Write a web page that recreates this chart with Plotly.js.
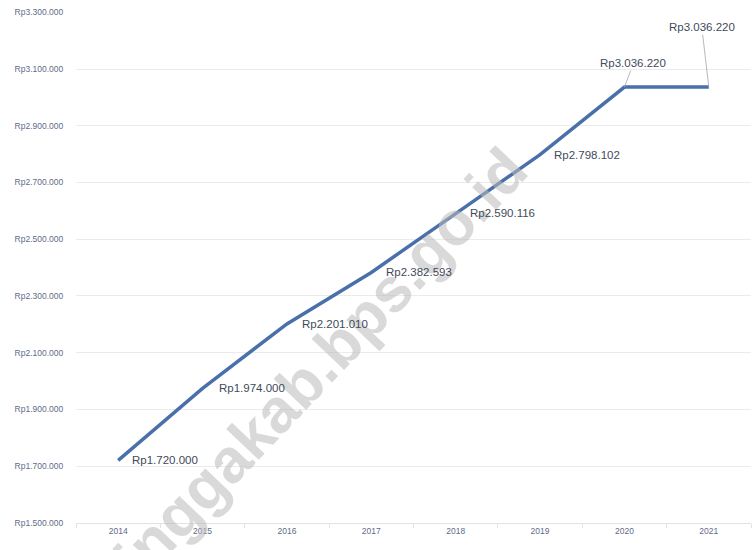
<!DOCTYPE html>
<html>
<head>
<meta charset="utf-8">
<script src="https://cdn.plot.ly/plotly-3.0.1.min.js"></script>
<style>html,body{margin:0;padding:0;background:#fff;}#chart{width:754px;height:550px;}</style>
</head>
<body>
<div id="chart"></div>
<script>
// ---- data ----
const years = ['2014','2015','2016','2017','2018','2019','2020','2021'];
const wages = [1720000, 1974000, 2201010, 2382593, 2590116, 2798102, 3036220, 3036220];
const yTickValues = [1500000,1700000,1900000,2100000,2300000,2500000,2700000,2900000,3100000,3300000];
const yTickLabels = ['Rp1.500.000','Rp1.700.000','Rp1.900.000','Rp2.100.000','Rp2.300.000','Rp2.500.000','Rp2.700.000','Rp2.900.000','Rp3.100.000','Rp3.300.000'];
const watermark = 'linggakab.bps.go.id';

function fmtRp(v){
  return 'Rp' + String(v).replace(/\B(?=(\d{3})+(?!\d))/g, '.');
}

// label placement (styling only)
const labelOffsets = [
  {mode:'side', dx:12, dy:0},
  {mode:'side', dx:14, dy:0},
  {mode:'side', dx:13, dy:0},
  {mode:'side', dx:13, dy:0},
  {mode:'side', dx:12, dy:1},
  {mode:'side', dx:12, dy:0},
  {mode:'leader', ax:9, ay:-24},
  {mode:'leader', ax:-7, ay:-60}
];

const labelFont = {family:'Liberation Sans, Arial, sans-serif', size:11.5, color:'#424a5a'};

const annotations = years.map((yr, i) => {
  const o = labelOffsets[i];
  // category axis: use the category's serial number
  const base = {x: years.indexOf(yr), y: wages[i], xref:'x', yref:'y', text: fmtRp(wages[i]), font: labelFont};
  if (o.mode === 'side') {
    return Object.assign(base, {showarrow:false, xanchor:'left', yanchor:'middle', xshift:o.dx, yshift:o.dy});
  }
  return Object.assign(base, {showarrow:true, arrowhead:0, arrowwidth:0.8, arrowcolor:'#a0a6b0',
    ax:o.ax, ay:o.ay, standoff:0, xanchor:'center', yanchor:'middle'});
});

annotations.unshift({
  xref:'paper', yref:'paper', x:0.354, y:0.30, text:'<b>'+watermark+'</b>', showarrow:false,
  textangle:-46.5, font:{family:'Liberation Sans, Arial, sans-serif', size:62, color:'rgba(185,185,185,0.55)'},
  xanchor:'center', yanchor:'middle'
});

const trace = {
  x: years, y: wages, type:'scatter', mode:'lines',
  line:{color:'#4a70aa', width:3.5},
  hoverinfo:'skip'
};

const layout = {
  width:754, height:550,
  margin:{l:76, r:3, t:12, b:27},
  paper_bgcolor:'#ffffff', plot_bgcolor:'#ffffff',
  showlegend:false,
  xaxis:{
    type:'category', range:[-0.5, 7.5],
    showgrid:false, zeroline:false,
    showline:true, linecolor:'#e2e2e2', linewidth:1,
    ticks:'outside', tickson:'boundaries', ticklen:4, tickcolor:'#e2e2e2',
    tickfont:{family:'Liberation Sans, Arial, sans-serif', size:8.5, color:'#5f6b88'}
  },
  yaxis:{
    range:[1499000, 3301000],
    tickvals:yTickValues, ticktext:yTickLabels,
    showgrid:true, gridcolor:'#ebebeb', gridwidth:1,
    zeroline:false, showline:false,
    ticks:'outside', ticklen:10, tickcolor:'rgba(0,0,0,0)',
    tickfont:{family:'Liberation Sans, Arial, sans-serif', size:8.5, color:'#5f6b88'}
  },
  annotations: annotations
};

Plotly.newPlot('chart', [trace], layout, {displayModeBar:false, staticPlot:true});
</script>
</body>
</html>
